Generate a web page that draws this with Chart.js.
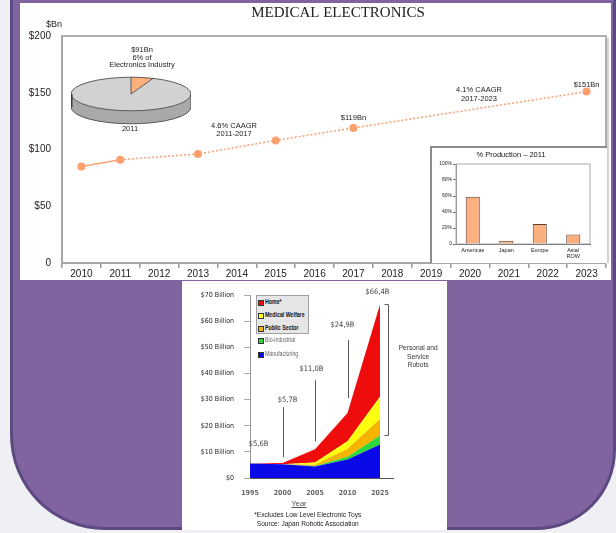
<!DOCTYPE html>
<html>
<head>
<meta charset="utf-8">
<title>Medical Electronics</title>
<script src="https://cdn.jsdelivr.net/npm/chart.js@4.4.1/dist/chart.umd.min.js"></script>
<style>
  html, body { margin: 0; padding: 0; }
  body {
    width: 616px; height: 533px; position: relative; overflow: hidden;
    background: #eef0f3;
    font-family: "Liberation Sans", Arial, sans-serif;
  }
  #frame {
    position: absolute; left: 10px; top: -40px; width: 600px; height: 567px;
    background: #7f64a0; border: 3px solid #5d4982; border-top: none;
    border-radius: 0 0 80px 95px;
  }
  .panel { position: absolute; background: #fff; }
  #topPanel { left: 20px; top: 3px; width: 591px; height: 277px; }
  #bottomPanel { left: 182px; top: 281px; width: 265px; height: 249px; }
  canvas { position: absolute; display: block; }
  #main { left: 20px; top: 3px; }
  #pie { left: 71px; top: 34px; }
  #insetBox {
    position: absolute; left: 430px; top: 146px; width: 175px; height: 115px;
    background: #fff; border-left: 2px solid #8c8c8c; border-top: 2px solid #8c8c8c;
  }
  #inset { left: 0; top: 0; }
  #robots { left: 182px; top: 281px; }
  .narrow { font-family: "Liberation Sans Narrow", "Liberation Sans", Arial, sans-serif; }
  #legendBox {
    position: absolute; left: 256px; top: 295px; width: 51px; height: 37px;
    background: #e6e6e6; border: 1px solid #a0a0a0;
  }
  .lg { position: absolute; font-size: 7.5px; line-height: 8px; white-space: nowrap; }
  .lg i { position: absolute; left: 0; top: 1.5px; width: 4px; height: 4px; border: 0.5px solid #333; }
  .lg span { position: absolute; left: 7px; top: 0; transform: scaleX(0.7); transform-origin: 0 50%; }
  .txt { position: absolute; color: #222; white-space: nowrap; text-align: center; }
  .txt span { display: inline-block; transform: scaleX(0.88); transform-origin: 50% 50%; }
</style>
</head>
<body>
<div id="frame"></div>
<div class="panel" id="topPanel"></div>
<div class="panel" id="bottomPanel"></div>

<canvas id="main" width="591" height="277"></canvas>
<canvas id="pie" width="120" height="120"></canvas>
<div id="insetBox"><canvas id="inset" width="175" height="115"></canvas></div>

<canvas id="robots" width="265" height="249"></canvas>
<div id="legendBox"></div>
<div id="legend"></div>
<div class="txt narrow" style="left:388px;top:344px;width:60px;font-size:7.5px;line-height:8.5px;color:#333;"><span>Personal and<br>Service<br>Robots</span></div>
<div class="txt narrow" style="left:279px;top:499px;width:40px;font-size:7.5px;color:#555;text-decoration:underline;">Year</div>
<div class="txt narrow" style="left:228px;top:510px;width:160px;font-size:7.5px;line-height:9px;color:#222;"><span>*Excludes Low Level Electronic Toys<br>Source: Japan Robotic Association</span></div>

<script>
// ---- Medical electronics market, $Bn ----
const years = ['2010', '2011', '2012', '2013', '2014', '2015', '2016',
               '2017', '2018', '2019', '2020', '2021', '2022', '2023'];
const marketBn = [85, 91, null, 96, null, 108, null, 119, null, null, null, null, null, 151];
const valueTicks = [0, 50, 100, 150, 200];

// Share of the electronics industry, 2011
const shareLabels = ['Medical', 'Other electronics'];
const industryShare = [6, 94];

// Production by region, 2011 (%)
const regions = ['Americas', 'Japan', 'Europe', ['Asia/', 'ROW']];
const productionShare = [59, 4, 25, 12];

// ---- Robot market forecast, $ billion ----
const robotYears = ['1995', '2000', '2005', '2010', '2025'];
const manufacturing = [5.6, 5.3, 4.4, 7.1, 12.8];
const bioIndustrial = [0, 0, 0.2, 1.0, 3.5];
const publicSector = [0, 0, 0.5, 3.1, 6.3];
const medicalWelfare = [0, 0, 0.8, 2.9, 8.5];
const home = [0, 0.4, 5.1, 10.8, 35.3];
const robotSeriesNames = ['Manufacturing', 'Bio-industrial', 'Public Sector', 'Medical Welfare', 'Home*'];

Chart.defaults.font.family = '"Liberation Sans", Arial, sans-serif';
Chart.defaults.color = '#222';

// ---------- main line chart ----------
const mainNotes = {
  id: 'mainNotes',
  afterDraw(chart, args, opts) {
    const { ctx, chartArea: a, scales: { x, y } } = chart;
    ctx.save();
    // top and right edges of the plot frame
    ctx.strokeStyle = '#b0b0b0';
    ctx.lineWidth = 2;
    ctx.beginPath();
    ctx.moveTo(a.left, a.top);
    ctx.lineTo(a.right, a.top);
    ctx.lineTo(a.right, a.bottom);
    ctx.stroke();
    ctx.strokeStyle = '#d0d0d0';
    ctx.beginPath();
    ctx.moveTo(a.right + 2, a.top + 2);
    ctx.lineTo(a.right + 2, a.bottom);
    ctx.stroke();

    ctx.fillStyle = '#222';
    ctx.textAlign = 'center';
    ctx.textBaseline = 'middle';
    ctx.font = '15px "Liberation Serif", "Times New Roman", serif';
    ctx.fillText('MEDICAL ELECTRONICS', 318, 10);
    ctx.font = '9px "Liberation Sans", Arial, sans-serif';
    ctx.fillText('$Bn', 34, 22);

    ctx.font = '7.5px "Liberation Sans", Arial, sans-serif';
    opts.notes.forEach(n => ctx.fillText(n.text, n.x, n.y));

    // value labels above selected points
    opts.valueLabels.forEach(v => {
      ctx.fillText('$' + marketBn[v.index] + 'Bn',
        x.getPixelForValue(v.index) + (v.dx || 0),
        y.getPixelForValue(marketBn[v.index]) - v.dy);
    });
    // pie caption, tied to the 2011 value and share
    ctx.fillText('$' + marketBn[1] + 'Bn', 122, 47);
    ctx.fillText(industryShare[0] + '% of', 122, 54.5);
    ctx.fillText('Electronics Industry', 122, 62);
    ctx.fillText(years[1], 110, 126);
    ctx.restore();
  }
};

new Chart(document.getElementById('main'), {
  type: 'line',
  data: {
    labels: years,
    datasets: [{
      data: marketBn,
      borderColor: '#f9a378',
      borderWidth: 1.6,
      pointRadius: 4,
      pointBorderWidth: 0,
      pointBackgroundColor: '#fb9f6c',
      spanGaps: true,
      tension: 0,
      segment: { borderDash: c => (c.p0DataIndex >= 1 ? [2, 2] : undefined) }
    }]
  },
  options: {
    responsive: false, animation: false, events: [],
    layout: { padding: { top: 33, right: 5, left: 0, bottom: 0 } },
    plugins: {
      legend: { display: false }, tooltip: { enabled: false },
      mainNotes: {
        notes: [
          { text: '4.6% CAAGR', x: 214, y: 123 },
          { text: '2011-2017', x: 214, y: 130.5 },
          { text: '4.1% CAAGR', x: 459, y: 87 },
          { text: '2017-2023', x: 459, y: 96 }
        ],
        valueLabels: [{ index: 7, dy: 10 }, { index: 13, dy: 7 }]
      }
    },
    scales: {
      x: {
        offset: true,
        grid: { offset: true, drawOnChartArea: false, tickLength: 5, color: '#9a9a9a', lineWidth: 1.5 },
        border: { color: '#a6a6a6', width: 2 },
        ticks: { padding: 0, font: { size: 10 }, color: '#222', maxRotation: 0, autoSkip: false },
        afterFit: s => { s.height = 17; }
      },
      y: {
        min: 0, max: 200,
        afterBuildTicks: s => { s.ticks = valueTicks.map(v => ({ value: v })); },
        ticks: { callback: v => (v === 0 ? '0' : '$' + v), padding: 11, font: { size: 10 }, color: '#222' },
        grid: { display: false, drawTicks: false },
        border: { color: '#a6a6a6', width: 2 },
        afterFit: s => { s.width = 42; }
      }
    }
  },
  plugins: [mainNotes]
});

// ---------- tilted pie with a rim ----------
const pieDepth = {
  id: 'pieDepth',
  beforeDatasetsDraw(chart, args, opts) {
    const ctx = chart.ctx;
    const arcs = chart.getDatasetMeta(0).data;
    const { x, y, outerRadius: r } = arcs[0];
    const k = opts.tilt, d = opts.depth / k;
    ctx.save();
    ctx.translate(x, y); ctx.scale(1, k); ctx.translate(-x, -y);
    arcs.forEach((arc, i) => {
      const a0 = Math.max(arc.startAngle, 0);
      const a1 = Math.min(arc.endAngle, Math.PI);
      if (a1 <= a0) return;
      ctx.beginPath();
      ctx.arc(x, y, r, a0, a1);
      ctx.arc(x, y + d, r, a1, a0, true);
      ctx.closePath();
      ctx.fillStyle = opts.sideColors[i];
      ctx.fill();
    });
  },
  afterDatasetsDraw(chart, args, opts) {
    const ctx = chart.ctx;
    const arcs = chart.getDatasetMeta(0).data;
    const { x, y, outerRadius: r } = arcs[0];
    const d = opts.depth / opts.tilt;
    // outline path is built in the tilted space, stroked untilted
    ctx.beginPath();
    ctx.moveTo(x + r, y);
    ctx.arc(x, y, r, 0, Math.PI * 2);
    ctx.moveTo(x + r, y);
    ctx.lineTo(x + r, y + d);
    ctx.arc(x, y + d, r, 0, Math.PI);
    ctx.lineTo(x - r, y);
    arcs.forEach(arc => {
      ctx.moveTo(x, y);
      ctx.lineTo(x + r * Math.cos(arc.startAngle), y + r * Math.sin(arc.startAngle));
    });
    ctx.restore();
    ctx.save();
    ctx.strokeStyle = '#3a3a3a';
    ctx.lineWidth = 0.8;
    ctx.stroke();
    ctx.lineWidth = 2;
    ctx.beginPath();
    ctx.moveTo(x - r + 0.5, y);
    ctx.lineTo(x - r + 0.5, y + opts.depth);
    ctx.stroke();
    ctx.restore();
  }
};

new Chart(document.getElementById('pie'), {
  type: 'pie',
  data: {
    labels: shareLabels,
    datasets: [{ data: industryShare, backgroundColor: ['#fdb07c', '#d2d2d2'], borderWidth: 0 }]
  },
  options: {
    responsive: false, animation: false, events: [],
    plugins: {
      legend: { display: false }, tooltip: { enabled: false },
      pieDepth: { tilt: 0.28, depth: 13, sideColors: ['#c98050', '#a9a9a9'] }
    }
  },
  plugins: [pieDepth]
});

// ---------- regional production inset ----------
const insetFrame = {
  id: 'insetFrame',
  beforeDatasetsDraw(chart) {
    const { ctx, chartArea: a } = chart;
    ctx.save();
    ctx.strokeStyle = '#a8a8a8';
    ctx.lineWidth = 1;
    ctx.strokeRect(a.left, a.top, a.right - a.left, a.bottom - a.top);
    ctx.restore();
  }
};

new Chart(document.getElementById('inset'), {
  type: 'bar',
  data: {
    labels: regions,
    datasets: [{
      data: productionShare,
      backgroundColor: '#fcb07f', borderColor: '#5e4030', borderWidth: 1,
      barPercentage: 0.84, categoryPercentage: 0.5
    }]
  },
  options: {
    responsive: false, animation: false, events: [],
    layout: { padding: { top: 0, right: 17, left: 0, bottom: 0 } },
    plugins: {
      legend: { display: false }, tooltip: { enabled: false },
      title: {
        display: true, text: '% Production \u2013 2011',
        font: { size: 7.5, weight: 'normal' }, color: '#111',
        padding: { top: 2, bottom: 5 }
      }
    },
    scales: {
      x: {
        grid: { display: false, drawTicks: false },
        border: { color: '#555', width: 1 },
        ticks: { font: { size: 5.5 }, padding: 3, color: '#222', maxRotation: 0, autoSkip: false },
        afterFit: s => { s.height = 19; }
      },
      y: {
        min: 0, max: 100,
        ticks: { stepSize: 20, callback: v => (v === 0 ? '0' : v + '%'), font: { size: 5 }, padding: 1, color: '#222' },
        grid: { drawOnChartArea: false, tickLength: 3, color: '#777' },
        border: { color: '#8a8a8a' },
        afterFit: s => { s.width = 24; }
      }
    }
  },
  plugins: [insetFrame]
});

// ---------- robot market stacked areas ----------
const robotSeries = [manufacturing, bioIndustrial, publicSector, medicalWelfare, home];
const robotColors = ['#0a0ae8', '#2ed83c', '#f6b400', '#ffff10', '#ee0c0c'];
const robotTotals = robotYears.map((_, i) => robotSeries.reduce((s, d) => s + d[i], 0));
const fmtB = v => '$' + v.toFixed(1).replace('.', ',') + 'B';

const robotNotes = {
  id: 'robotNotes',
  afterDatasetsDraw(chart, args, opts) {
    const { ctx, scales: { x, y } } = chart;
    ctx.save();
    ctx.strokeStyle = '#555';
    ctx.lineWidth = 1;
    ctx.fillStyle = '#444';
    ctx.font = '7.5px "Liberation Sans Narrow", "DejaVu Sans Condensed", Arial, sans-serif';
    ctx.textAlign = 'center';
    ctx.textBaseline = 'middle';
    opts.callouts.forEach(c => {
      const px = Math.round(x.getPixelForValue(c.index)) + 0.5;
      const py = y.getPixelForValue(robotTotals[c.index]);
      if (c.line) {
        ctx.beginPath();
        ctx.moveTo(px, py - c.line[0]);
        ctx.lineTo(px, py - c.line[1]);
        ctx.stroke();
      }
      ctx.fillText(fmtB(robotTotals[c.index]), px + c.dx, py - c.dy);
    });
    // bracket over the personal & service share of the last year
    const last = robotYears.length - 1;
    const bx = Math.round(x.getPixelForValue(last)) + 8.5;
    const yTop = y.getPixelForValue(robotTotals[last]);
    const yBot = y.getPixelForValue(manufacturing[last] + bioIndustrial[last]);
    ctx.beginPath();
    ctx.moveTo(bx - 4, yTop); ctx.lineTo(bx, yTop);
    ctx.lineTo(bx, yBot); ctx.lineTo(bx - 4, yBot);
    ctx.stroke();
    ctx.restore();
  }
};

new Chart(document.getElementById('robots'), {
  type: 'line',
  data: {
    datasets: robotSeries.map((vals, i) => ({
      label: robotSeriesNames[i],
      data: vals.map((v, j) => ({ x: j, y: v })),
      backgroundColor: robotColors[i],
      borderWidth: 0,
      pointRadius: 0,
      tension: 0,
      fill: i === 0 ? 'origin' : '-1'
    }))
  },
  options: {
    responsive: false, animation: false, events: [],
    layout: { padding: { top: 11, right: 54, left: 0, bottom: 0 } },
    plugins: {
      legend: { display: false }, tooltip: { enabled: false },
      robotNotes: {
        callouts: [
          { index: 0, dx: 8, dy: 19 },
          { index: 1, dx: 4, dy: 63, line: [6, 56] },
          { index: 2, dx: -4, dy: 80, line: [8, 69] },
          { index: 3, dx: -6, dy: 88, line: [15, 73] },
          { index: 4, dx: -3, dy: 13 }
        ]
      }
    },
    scales: {
      x: {
        type: 'linear', min: 0, max: 4.4,
        afterBuildTicks: s => { s.ticks = robotYears.map((_, i) => ({ value: i })); },
        ticks: {
          callback: v => robotYears[v], padding: 11, color: '#666',
          font: { size: 7, weight: 'bold', family: '"Liberation Sans Narrow", "DejaVu Sans Condensed", Arial, sans-serif' }
        },
        grid: { display: false, drawTicks: false },
        border: { color: '#555' },
        afterFit: s => { s.height = 52; }
      },
      y: {
        stacked: true, min: 0, max: 70,
        ticks: {
          stepSize: 10, callback: v => (v === 0 ? '$0' : '$' + v + ' Billion'), padding: 10, color: '#222',
          font: { size: 7, family: '"Liberation Sans Narrow", "DejaVu Sans Condensed", Arial, sans-serif' }
        },
        grid: { drawOnChartArea: false, tickLength: 6, color: '#aaa' },
        border: { color: '#999' },
        afterFit: s => { s.width = 68; }
      }
    }
  },
  plugins: [robotNotes]
});

// legend, top entry first
const legend = document.getElementById('legend');
const rowTops = [298, 311, 324, 336, 350];
robotSeriesNames.slice().reverse().forEach((name, k) => {
  const i = robotSeriesNames.length - 1 - k;
  const item = document.createElement('div');
  item.className = 'lg narrow';
  item.style.left = '258px';
  item.style.top = rowTops[k] + 'px';
  const boxed = k < 3;
  item.style.fontWeight = boxed ? 'bold' : 'normal';
  item.style.color = boxed ? '#111' : '#666';
  item.innerHTML = '<i style="background:' + robotColors[i] + '"></i><span>' + name + '</span>';
  legend.appendChild(item);
});
</script>
</body>
</html>
